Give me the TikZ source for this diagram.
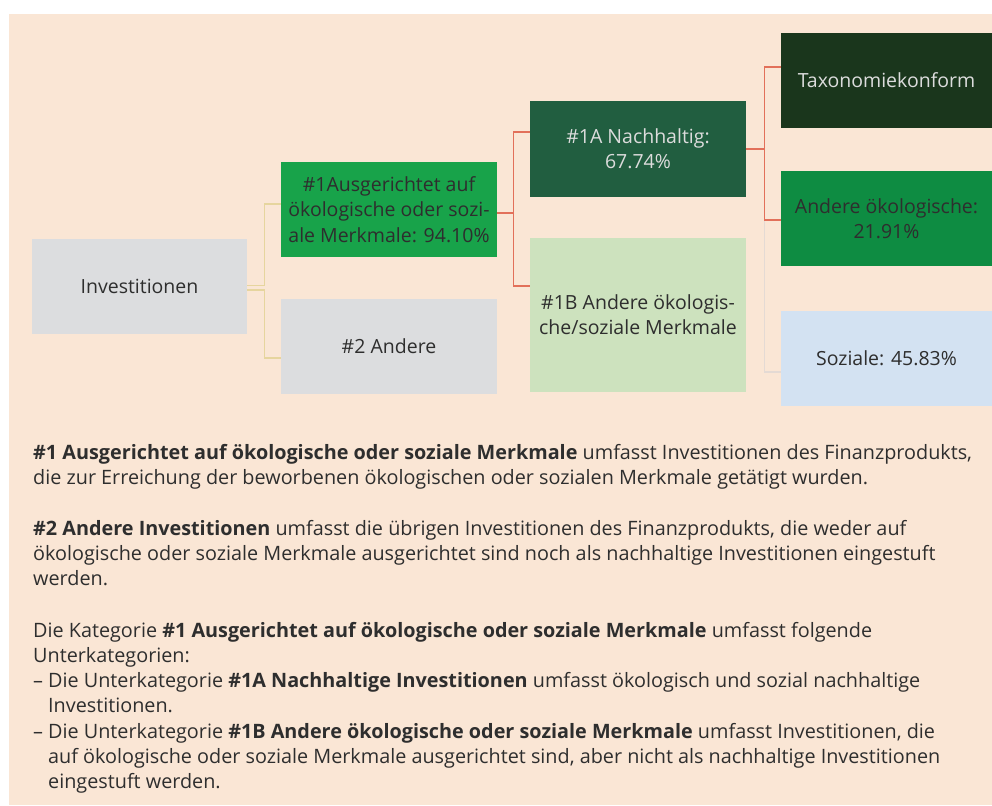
\documentclass[tikz,border=0pt]{standalone}
\usepackage{fontspec}
\setmainfont{Open Sans}
\usepackage{tikz}

\definecolor{peach}{HTML}{FAE6D5}
\definecolor{boxgray}{HTML}{DCDDDF}
\definecolor{midgreen}{HTML}{18A34A}
\definecolor{deepgreen}{HTML}{215E40}
\definecolor{palegreen}{HTML}{CDE2BE}
\definecolor{darkgreen}{HTML}{1A361C}
\definecolor{leafgreen}{HTML}{0E8C42}
\definecolor{paleblue}{HTML}{D3E2F2}
\definecolor{textdark}{HTML}{2E2E2E}
\definecolor{textlight}{HTML}{DCDCDC}
\definecolor{linkyellow}{HTML}{E6D59E}
\definecolor{linkred}{HTML}{E2705A}
\definecolor{linkgray}{HTML}{E4DAD4}

\newcommand{\diagfont}{\fontsize{19.5}{25.2}\selectfont}
\newcommand{\notefont}{\fontsize{19.8}{25.2}\selectfont}

\tikzstyle{box} = [rectangle, minimum width=216pt, minimum height=95pt, inner sep=0pt, align=center, text=textdark, font=\diagfont]
\tikzstyle{para} = [anchor=north west, inner sep=0pt, align=left, text=textdark, font=\notefont]
\tikzstyle{ylink} = [line width=1.3pt, linkyellow]
\tikzstyle{rlink} = [line width=1.3pt, linkred]
\tikzstyle{glink} = [line width=1.3pt, linkgray]

\begin{document}
\begin{tikzpicture}[x=1pt, y=-1pt]
\useasboundingbox (0,0) rectangle (992,805);
\fill [peach] (9,14) rectangle (992,805);

\node (inv) [box, fill=boxgray, minimum width=215pt] at (139.5,286) {Investitionen};
\node (one) [box, fill=midgreen] at (389,209.5) {\#1Ausgerichtet auf\\ökologische oder sozi-\\ale Merkmale: 94.10\%};
\node (two) [box, fill=boxgray] at (389,346.5) {\#2 Andere};
\node (oneA) [box, fill=deepgreen, text=textlight, minimum height=96pt] at (638,149) {\#1A Nachhaltig:\\67.74\%};
\node (oneB) [box, fill=palegreen, minimum height=154pt] at (638,315) {\#1B Andere ökologis-\\che/soziale Merkmale};
\node (tax) [box, fill=darkgreen, text=textlight, minimum width=211pt] at (886.5,80.5) {Taxonomiekonform};
\node (andere) [box, fill=leafgreen, minimum width=211pt] at (886.5,218.5) {Andere ökologische:\\21.91\%};
\node (soz) [box, fill=paleblue, minimum width=211pt] at (886.5,358.5) {Soziale: 45.83\%};

\draw [ylink] ([yshift=0.5pt]inv.east) -- ++(17.5,0) |- ([yshift=5.5pt]one.west);
\draw [ylink] ([yshift=-4pt]inv.east) -- ++(17.5,0) |- ([yshift=-11.5pt]two.west);
\draw [rlink] ([yshift=-3.5pt]one.east) -- ++(16,0) |- ([yshift=17pt]oneA.west);
\draw [rlink] ([yshift=-3.5pt]one.east) -- ++(16,0) |- ([yshift=29pt]oneB.west);
\draw [glink] (oneA.east) -- ++(18,0) |- ([yshift=-13.5pt]soz.west);
\draw [rlink] (oneA.east) -- ++(18,0) |- ([yshift=13.5pt]tax.west);
\draw [rlink] (oneA.east) -- ++(18,0) |- ([yshift=-1.5pt]andere.west);

\node (noteone) [para] at (33,444) {\textbf{\#1 Ausgerichtet auf ökologische oder soziale Merkmale} umfasst Investitionen des Finanzprodukts,\\
die zur Erreichung der beworbenen ökologischen oder sozialen Merkmale getätigt wurden.};
\node (notetwo) [para] at (33,520) {\textbf{\#2 Andere Investitionen} umfasst die übrigen Investitionen des Finanzprodukts, die weder auf\\
ökologische oder soziale Merkmale ausgerichtet sind noch als nachhaltige Investitionen eingestuft\\
werden.};
\node (notesub) [para] at (33,622) {Die Kategorie \textbf{\#1 Ausgerichtet auf ökologische oder soziale Merkmale} umfasst folgende\\
Unterkategorien:\\
\makebox[15pt][l]{–}Die Unterkategorie \textbf{\#1A Nachhaltige Investitionen} umfasst ökologisch und sozial nachhaltige\\
\hspace*{15pt}Investitionen.\\
\makebox[15pt][l]{–}Die Unterkategorie \textbf{\#1B Andere ökologische oder soziale Merkmale} umfasst Investitionen, die\\
\hspace*{15pt}auf ökologische oder soziale Merkmale ausgerichtet sind, aber nicht als nachhaltige Investitionen\\
\hspace*{15pt}eingestuft werden.};
\end{tikzpicture}
\end{document}
